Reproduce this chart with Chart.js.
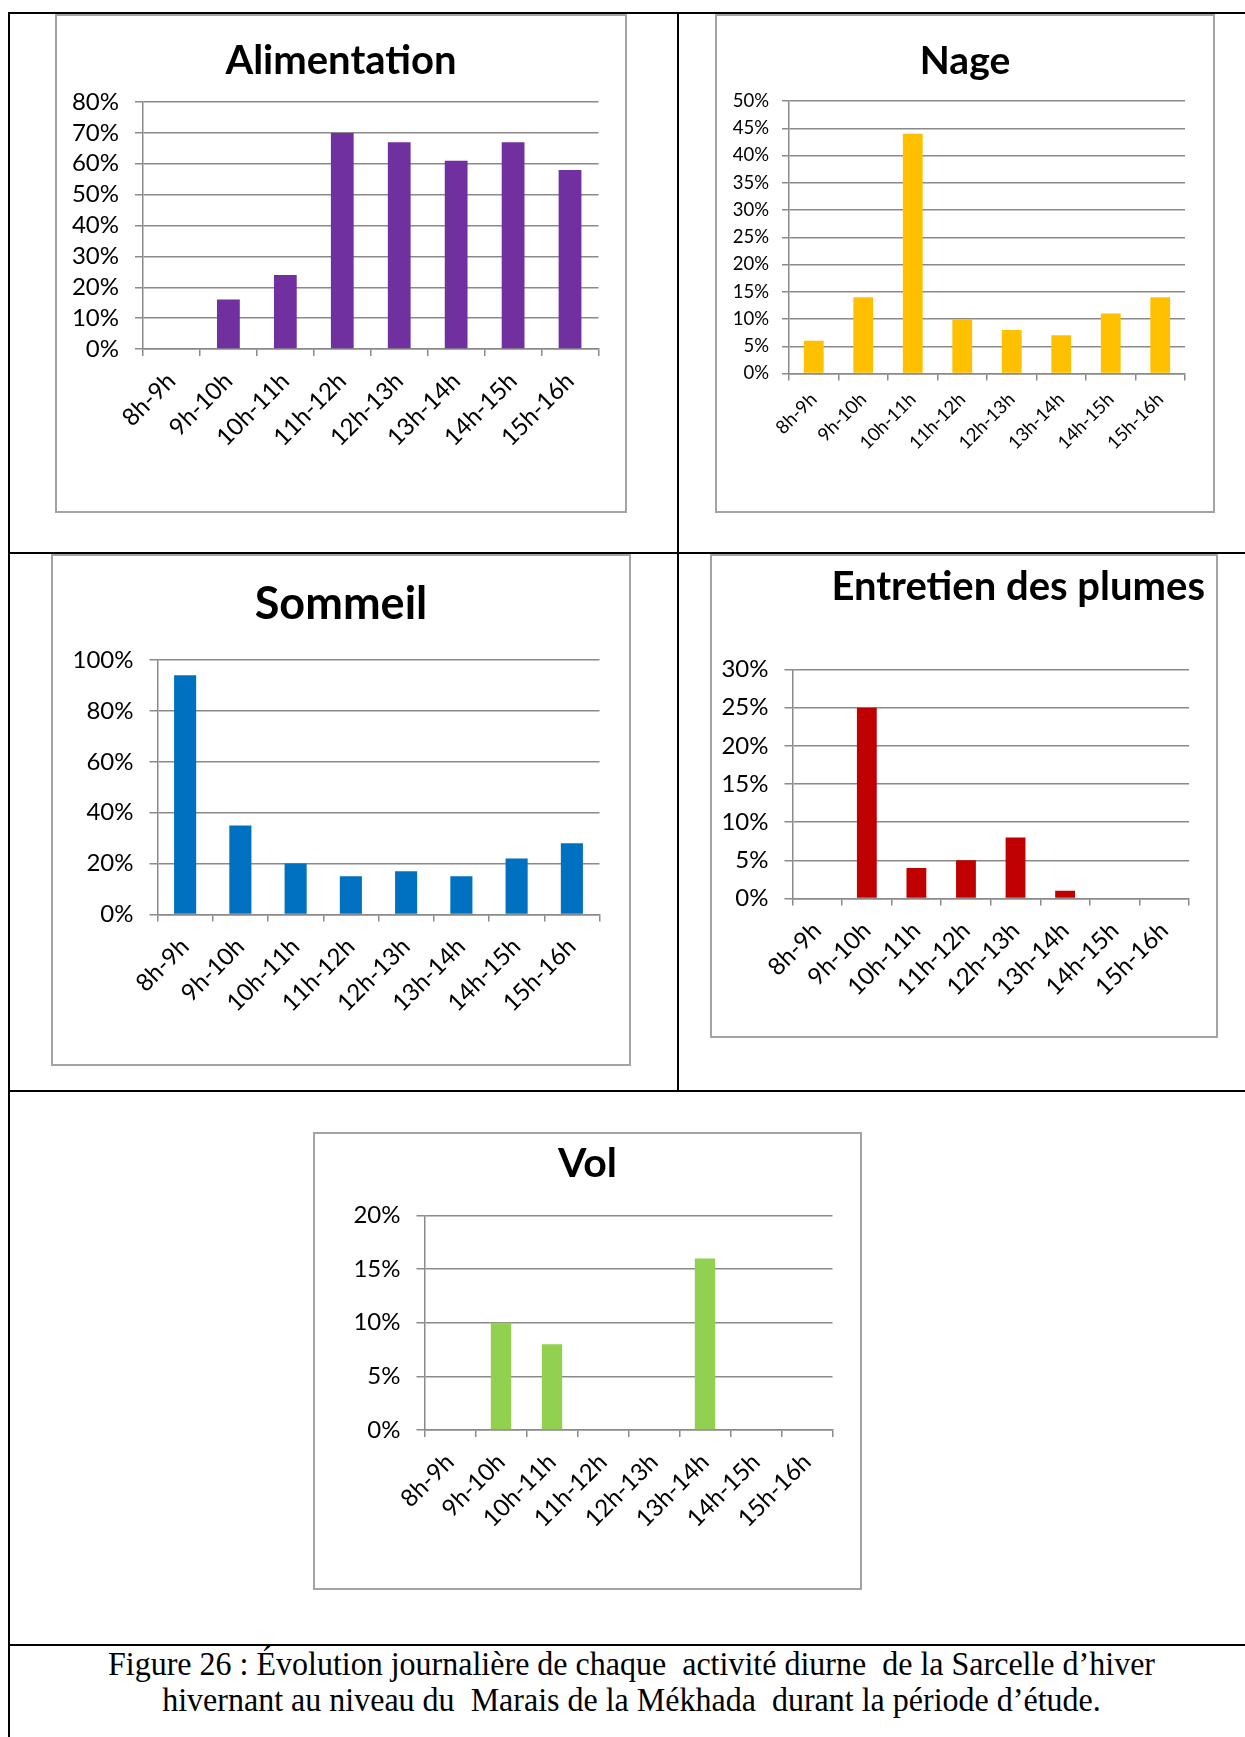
<!DOCTYPE html>
<html>
<head>
<meta charset="utf-8">
<script src="https://cdn.jsdelivr.net/npm/chart.js@4.4.1/dist/chart.umd.min.js"></script>
<style>
  body { margin: 0; background: #fff; width: 1245px; height: 1737px; position: relative; overflow: hidden; }
  .rule { position: absolute; background: #000; }
  .frame { position: absolute; box-sizing: border-box; border: 2px solid #a3a3a3; background: #fff; }
  .frame canvas { position: absolute; left: 0; top: 0; }
  #caption {
    position: absolute; left: 9px; width: 1245px; top: 1646px;
    font-family: "Liberation Serif", "Times New Roman", serif; font-size: 33px; line-height: 36px;
    text-align: center; color: #000; white-space: pre;
  }
  #caption div { transform: scaleX(0.97); }
</style>
</head>
<body>
<!-- table rules -->
<div class="rule" style="left:8px; top:12px; width:1237px; height:2px;"></div>
<div class="rule" style="left:8px; top:12px; width:2px; height:1725px;"></div>
<div class="rule" style="left:677px; top:12px; width:2px; height:1080px;"></div>
<div class="rule" style="left:8px; top:552px; width:1237px; height:2px;"></div>
<div class="rule" style="left:8px; top:1090px; width:1237px; height:2px;"></div>
<div class="rule" style="left:8px; top:1644px; width:1237px; height:2px;"></div>

<div class="frame" id="f1"><canvas id="c1"></canvas></div>
<div class="frame" id="f2"><canvas id="c2"></canvas></div>
<div class="frame" id="f3"><canvas id="c3"></canvas></div>
<div class="frame" id="f4"><canvas id="c4"></canvas></div>
<div class="frame" id="f5"><canvas id="c5"></canvas></div>

<div id="caption"><div>Figure 26 : Évolution journalière de chaque  activité diurne  de la Sarcelle d’hiver</div><div>hivernant au niveau du  Marais de la Mékhada  durant la période d’étude.</div></div>

<script>
const hours = ["8h-9h", "9h-10h", "10h-11h", "11h-12h", "12h-13h", "13h-14h", "14h-15h", "15h-16h"];

const alimentation = [0, 16, 24, 70, 67, 61, 67, 58];
const nage = [6, 14, 44, 10, 8, 7, 11, 14];
const sommeil = [94, 35, 20, 15, 17, 15, 22, 28];
const entretien = [0, 25, 4, 5, 8, 1, 0, 0];
const vol = [0, 10, 8, 0, 0, 16, 0, 0];

// y axis tick values (%)
const alimentationTicks = [0, 10, 20, 30, 40, 50, 60, 70, 80];
const nageTicks = [0, 5, 10, 15, 20, 25, 30, 35, 40, 45, 50];
const sommeilTicks = [0, 20, 40, 60, 80, 100];
const entretienTicks = [0, 5, 10, 15, 20, 25, 30];
const volTicks = [0, 5, 10, 15, 20];

const GRID = "#8a8a8a";
const FONT = "Lato";

// box = frame on the page, plot = [left, right, top, bottom] of the plot area
function barChart(n, title, values, color, yTicks, box) {
  const frame = document.getElementById("f" + n);
  frame.style.left = box.x + "px";
  frame.style.top = box.y + "px";
  frame.style.width = box.w + "px";
  frame.style.height = box.h + "px";

  const canvas = document.getElementById("c" + n);
  const w = box.w - 4, h = box.h - 4;
  canvas.width = w;
  canvas.height = h;
  const ox = box.x + 2, oy = box.y + 2;

  const left = box.plot[0] - ox;
  const top = box.plot[2] - oy;
  const bottom = h - (box.plot[3] - oy);
  // space right of the plot goes to an empty axis so the title stays centred on the frame
  let padRight = 0;
  let extra = w - (box.plot[1] - ox);
  if (box.titleEnd) {
    padRight = w - (box.titleEnd - ox);
    extra = box.titleEnd - box.plot[1];
  }

  const tSize = box.titleSize || 40;
  const lineH = tSize * 1.2;
  const padTop = box.titleY - oy - lineH / 2;
  const padBottom = top - padTop - lineH;
  const tickSize = box.tickSize || 24;

  return new Chart(canvas.getContext("2d"), {
    type: "bar",
    data: {
      labels: hours,
      datasets: [
        {
          data: values,
          backgroundColor: color,
          barPercentage: 0.4,
          categoryPercentage: 1.0,
        },
      ],
    },
    options: {
      responsive: false,
      animation: false,
      layout: { padding: { left: 0, right: padRight, top: 0, bottom: 0 } },
      plugins: {
        legend: { display: false },
        tooltip: { enabled: false },
        title: {
          display: true,
          text: title,
          color: "#000",
          align: box.titleEnd ? "end" : "center",
          font: { family: FONT, weight: "bold", size: tSize, lineHeight: 1.2 },
          padding: { top: padTop, bottom: padBottom },
        },
      },
      scales: {
        x: {
          grid: { display: true, drawOnChartArea: false, drawTicks: true, tickLength: 7, color: GRID, lineWidth: 1.5, offset: true },
          border: { display: true, color: GRID, width: 1.5 },
          ticks: { color: "#000", font: { family: FONT, size: tickSize }, minRotation: 45, maxRotation: 45, autoSkip: false, padding: box.xPad || 11 },
          afterFit: (s) => { s.height = bottom; },
        },
        y: {
          min: yTicks[0],
          max: yTicks[yTicks.length - 1],
          grid: { color: GRID, lineWidth: 1.5, tickLength: box.tl || 8 },
          border: { display: true, color: GRID, width: 1.5 },
          ticks: { autoSkip: false, color: "#000", font: { family: FONT, size: tickSize }, padding: box.yPad || 16, callback: (v) => v + "%" },
          afterBuildTicks: (s) => { s.ticks = yTicks.map((v) => ({ value: v })); },
          afterFit: (s) => { s.width = left; },
        },
        gap: {
          type: "linear",
          position: "right",
          display: true,
          grid: { display: false },
          border: { display: false },
          ticks: { display: false },
          afterFit: (s) => { s.width = extra; },
        },
      },
    },
  });
}

barChart(1, "Alimentation", alimentation, "#7030a0", alimentationTicks,
  { x: 55, y: 14, w: 572, h: 499, plot: [143, 598.5, 102, 349], titleY: 61 });

barChart(2, "Nage", nage, "#ffc000", nageTicks,
  { x: 715, y: 14, w: 500, h: 499, plot: [789, 1185, 101, 373.5], titleY: 61, titleSize: 39, tickSize: 18.5, tl: 7, yPad: 13, xPad: 8 });

barChart(3, "Sommeil", sommeil, "#0070c0", sommeilTicks,
  { x: 51, y: 554, w: 580, h: 512, plot: [157.5, 599.5, 660, 914.5], titleY: 604, titleSize: 45 });

barChart(4, "Entretien des plumes", entretien, "#c00000", entretienTicks,
  { x: 710, y: 554, w: 508, h: 484, plot: [792.5, 1189, 669.6, 898.5], titleY: 587, titleEnd: 1205 });

barChart(5, "Vol", vol, "#92d050", volTicks,
  { x: 313, y: 1132, w: 549, h: 458, plot: [424.5, 832.5, 1215.5, 1430], titleY: 1164, titleSize: 41 });
</script>
</body>
</html>
